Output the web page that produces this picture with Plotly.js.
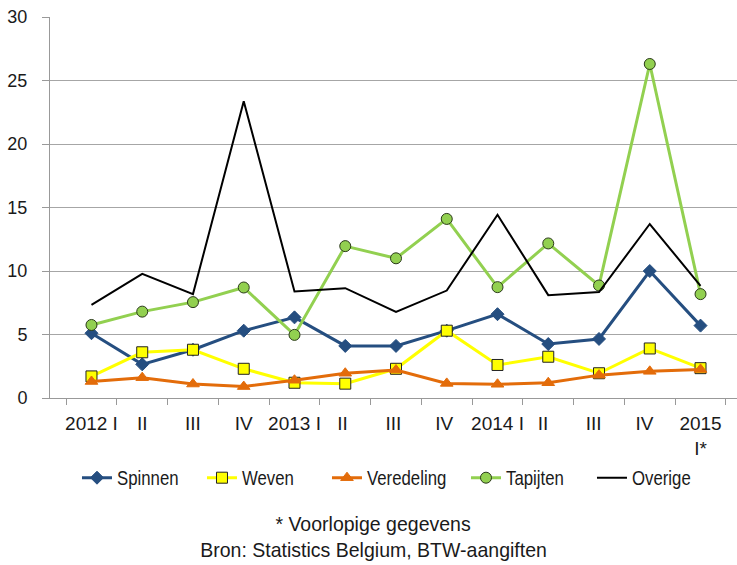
<!DOCTYPE html>
<html><head><meta charset="utf-8">
<script src="https://cdn.plot.ly/plotly-3.0.1.min.js"></script>
<style>html,body{margin:0;padding:0;overflow:hidden;background:#fff}</style>
</head><body>
<div id="chart" style="width:745px;height:565px"></div>
<script>
var categories = ["2012 I","II","III","IV","2013 I","II ","III ","IV ","2014 I","II  ","III  ","IV  ","2015<br>I*"];
var spinnen    = [5.1, 2.65, 3.8, 5.3, 6.35, 4.1, 4.1, 5.3, 6.6, 4.25, 4.65, 10.0, 5.7];
var weven      = [1.7, 3.6, 3.8, 2.3, 1.2, 1.13, 2.3, 5.3, 2.6, 3.25, 1.95, 3.9, 2.35];
var veredeling = [1.3, 1.6, 1.1, 0.9, 1.4, 1.95, 2.2, 1.15, 1.08, 1.2, 1.8, 2.1, 2.25];
var tapijten   = [5.75, 6.8, 7.55, 8.7, 4.97, 11.96, 11.0, 14.1, 8.73, 12.17, 8.86, 26.3, 8.18];
var overige    = [7.33, 9.78, 8.18, 23.37, 8.38, 8.65, 6.78, 8.46, 14.43, 8.1, 8.34, 13.7, 8.83];

var FONT = '"Liberation Sans", Arial, sans-serif';
var TXT = "#1a1a1a";

var traces = [
  {name:"Spinnen", x:categories, y:spinnen, mode:"lines+markers", type:"scatter", legendwidth:80,
   line:{color:"#254E80", width:3},
   marker:{symbol:"diamond", size:10, color:"#254E80", line:{color:"#254E80", width:1}}},
  {name:"Weven", x:categories, y:weven, mode:"lines+markers", type:"scatter", legendwidth:80,
   line:{color:"#FFFF00", width:3},
   marker:{symbol:"square", size:11, color:"#FFFF00", line:{color:"#222222", width:1}}},
  {name:"Veredeling", x:categories, y:veredeling, mode:"lines+markers", type:"scatter", legendwidth:94,
   line:{color:"#E36C0A", width:3},
   marker:{symbol:"triangle-up", size:11, color:"#E36C0A", line:{color:"#E36C0A", width:1}}},
  {name:"Tapijten", x:categories, y:tapijten, mode:"lines+markers", type:"scatter", legendwidth:81,
   line:{color:"#92D050", width:3},
   marker:{symbol:"circle", size:11, color:"#92D050", line:{color:"#2B3A1A", width:1}}},
  {name:"Overige", x:categories, y:overige, mode:"lines", type:"scatter", legendwidth:70,
   line:{color:"#000000", width:2}}
];

var layout = {
  width:745, height:565,
  margin:{l:50, r:3, t:17, b:167},
  paper_bgcolor:"#ffffff", plot_bgcolor:"#ffffff",
  font:{family:FONT, size:19, color:TXT},
  showlegend:true,
  legend:{orientation:"h", x:0.039, xanchor:"left", y:-0.158, yanchor:"top",
          font:{family:FONT, size:20, color:TXT}, itemwidth:30, tracegroupgap:0},
  xaxis:{type:"category", tickson:"boundaries", ticks:"outside", ticklen:6, tickcolor:"#999999",
         showline:true, linecolor:"#999999", linewidth:1, showgrid:false, zeroline:false,
         tickfont:{family:FONT, size:19, color:TXT}, ticklabelstandoff:8,
         fixedrange:true, tickangle:0},
  yaxis:{range:[0,30], tickvals:[0,5,10,15,20,25,30], ticks:"outside", ticklen:7, tickcolor:"#999999",
         showline:true, linecolor:"#999999", linewidth:1, showgrid:true, gridcolor:"#A6A6A6", gridwidth:1,
         zeroline:false, tickfont:{family:FONT, size:18, color:TXT}, ticklabelstandoff:11,
         fixedrange:true},
  annotations:[
    {text:"* Voorlopige gegevens", xref:"paper", yref:"paper", x:0.467, y:-0.33, xanchor:"center", yanchor:"middle",
     showarrow:false, font:{family:FONT, size:21, color:TXT}},
    {text:"Bron: Statistics Belgium, BTW-aangiften", xref:"paper", yref:"paper", x:0.467, y:-0.398, xanchor:"center", yanchor:"middle",
     showarrow:false, font:{family:FONT, size:21, color:TXT}}
  ]
};

// narrow the text horizontally around its anchor point (emulates a narrow typeface)
function condense(el, k){
  var x = parseFloat(el.getAttribute('x')) || 0;
  var tr = el.getAttribute('transform') || '';
  el.setAttribute('transform', tr + ' translate(' + x + ',0) scale(' + k + ',1) translate(' + (-x) + ',0)');
}

var gd = document.getElementById("chart");
Plotly.newPlot(gd, traces, layout, {displayModeBar:false, staticPlot:true}).then(function(){
  gd.querySelectorAll('g.annotation text').forEach(function(t){ condense(t, 0.93); });
  gd.querySelectorAll('text.xtick, text.ytick, text.legendtext').forEach(function(t){ condense(t, 0.84); });
  gd.querySelectorAll('text.xtick tspan.line').forEach(function(s){
    if (s.getAttribute('dy') && s.getAttribute('dy') !== '0em') s.setAttribute('dy', '1.0em');
  });
});
</script>
</body></html>
